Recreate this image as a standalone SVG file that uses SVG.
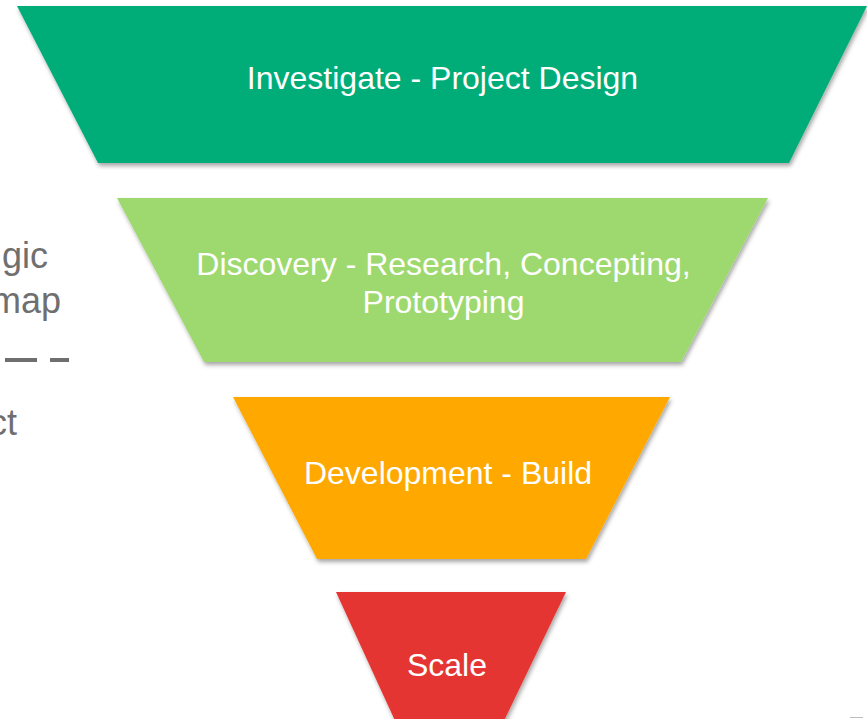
<svg xmlns="http://www.w3.org/2000/svg" width="867" height="719" viewBox="0 0 867 719">
  <defs>
    <filter id="shadow" x="-10%" y="-10%" width="120%" height="130%">
      <feDropShadow dx="1.5" dy="3" stdDeviation="2" flood-color="#000000" flood-opacity="0.35"/>
    </filter>
  </defs>
  <style>
    .label { font-family: "Liberation Sans", Arial, sans-serif; font-size: 32px; fill: #ffffff; text-anchor: middle; }
    .side { font-family: "Liberation Sans", Arial, sans-serif; font-size: 36px; fill: #6f6f6f; text-anchor: end; }
    .stage { filter: url(#shadow); }
  </style>
  <rect x="0" y="0" width="867" height="719" fill="#ffffff"/>

  <g id="side-text">
    <text class="side" x="48" y="268">gic</text>
    <text class="side" x="61" y="313">map</text>
    <line x1="5" y1="360" x2="69" y2="360" stroke="#6f6f6f" stroke-width="4" stroke-dasharray="32 13 19 40"/>
    <text class="side" x="17" y="435">ct</text>
  </g>

  <g id="investigate">
    <polygon class="stage" points="17,6 867,6 789,163 98,163" fill="#00ad78"/>
    <text class="label" x="442.5" y="89">Investigate - Project Design</text>
  </g>

  <g id="discovery">
    <polygon class="stage" points="117,198 768,198 681,362 204,362" fill="#9ed970"/>
    <text class="label" x="443.5" y="275">Discovery - Research, Concepting,</text>
    <text class="label" x="443.5" y="313">Prototyping</text>
  </g>

  <g id="development">
    <polygon class="stage" points="233,397 670,397 586,559 317,559" fill="#ffa800"/>
    <text class="label" x="448" y="484">Development - Build</text>
  </g>

  <g id="scale">
    <polygon class="stage" points="336,592 566,592 502,725 397,725" fill="#e53531"/>
    <text class="label" x="447" y="676">Scale</text>
  </g>

  <g id="connectors"/>

  <line x1="850" y1="717.5" x2="863" y2="717.5" stroke="#bdbdbd" stroke-width="1"/>
</svg>
